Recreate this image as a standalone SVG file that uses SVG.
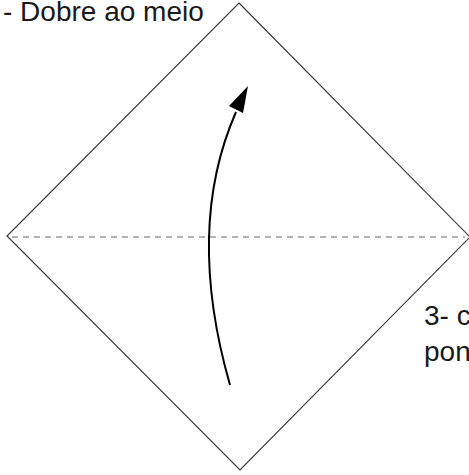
<svg xmlns="http://www.w3.org/2000/svg" width="469" height="475" viewBox="0 0 469 475">
<style>
.lbl{font-family:"Liberation Sans",Arial,sans-serif;font-size:28px;fill:#1a1a1a}
.edge{fill:none;stroke:#3a3a3a;stroke-width:1.2}
.fold{fill:none;stroke:#b4b4b4;stroke-width:2;stroke-dasharray:6 5}
.arr{fill:none;stroke:#000;stroke-width:2}
</style>
<rect width="469" height="475" fill="#fff"/>
<g id="paper">
<polygon class="edge" points="239,3 470,237 240,470 7,236"/>
</g>
<g id="foldline">
<line class="fold" x1="12" y1="237" x2="465" y2="237"/>
</g>
<g id="connectors">
<path class="arr" d="M230,385 Q185,228 236,112"/>
<polygon points="248,86 229,106 243,113" fill="#000"/>
</g>
<g id="label1">
<text class="lbl" x="3" y="21">- Dobre ao meio</text>
</g>
<g id="label3">
<text class="lbl" x="424" y="325">3- c</text>
<text class="lbl" x="424" y="361">pon</text>
</g>
</svg>
